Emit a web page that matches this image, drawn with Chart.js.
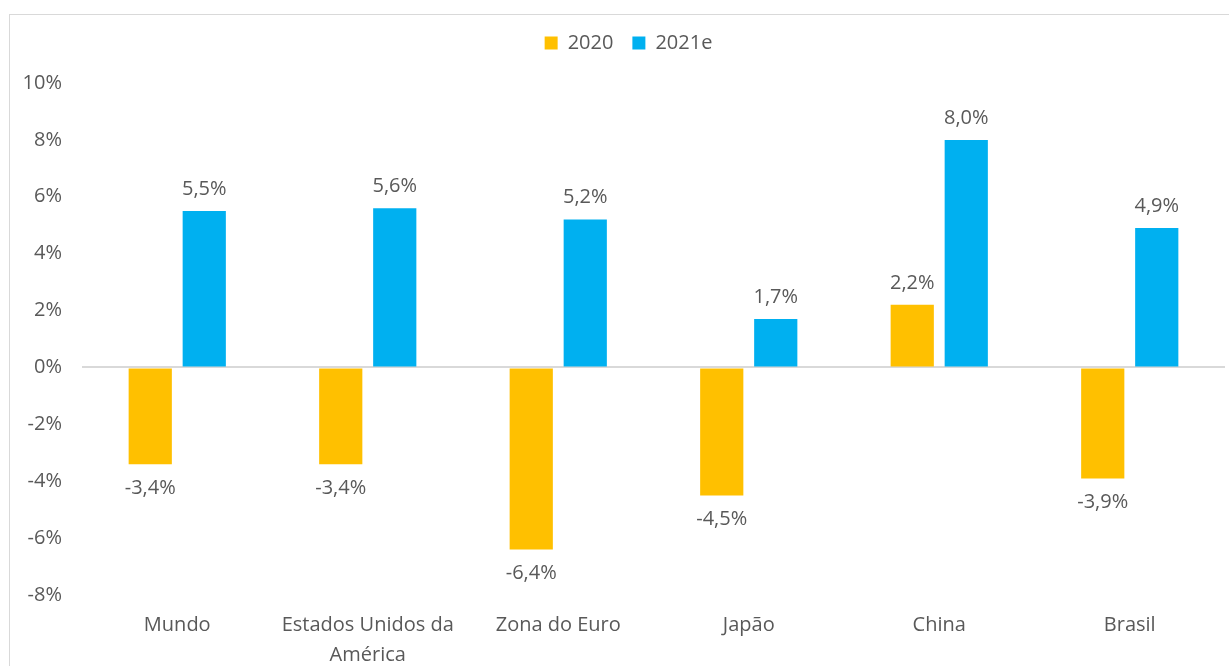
<!DOCTYPE html>
<html>
<head>
<meta charset="utf-8">
<script src="https://cdn.jsdelivr.net/npm/chart.js@4.4.1/dist/chart.umd.min.js"></script>
<style>
  html, body { margin: 0; padding: 0; background: #fff; overflow: hidden; }
  #moldura { position: absolute; left: 9px; top: 14px; width: 1240px; height: 700px;
             border-left: 1px solid #d9d9d9; border-top: 1px solid #d9d9d9; }
  #grafico { position: absolute; left: 0; top: 0; }
</style>
</head>
<body>
<div id="moldura"></div>
<canvas id="grafico" width="1229" height="666"></canvas>
<script>
// Dados do gráfico (crescimento do PIB)
const paises = ['Mundo', ['Estados Unidos da', 'América'], 'Zona do Euro', 'Japão', 'China', 'Brasil'];
const serie2020 = [-3.4, -3.4, -6.4, -4.5, 2.2, -3.9];
const serie2021e = [5.5, 5.6, 5.2, 1.7, 8.0, 4.9];
const nomesSeries = ['2020', '2021e'];
const yMin = -8, yMax = 10, yPasso = 2;

const corTexto = '#595959';
const fonte = '"Open Sans", Lato, sans-serif';
const tamFonte = 20;

// rótulos em cima/embaixo das barras, com vírgula decimal
const rotulosPlugin = {
  id: 'rotulos',
  afterDatasetsDraw(chart) {
    const ctx = chart.ctx;
    ctx.save();
    ctx.font = tamFonte + 'px ' + fonte;
    ctx.fillStyle = corTexto;
    ctx.textAlign = 'center';
    ctx.textBaseline = 'middle';
    chart.data.datasets.forEach((ds, i) => {
      chart.getDatasetMeta(i).data.forEach((bar, j) => {
        const v = ds.data[j];
        const txt = v.toFixed(1).replace('.', ',') + '%';
        const y = v >= 0 ? bar.y - 22 : bar.y + 24;
        ctx.fillText(txt, bar.x, y);
      });
    });
    ctx.restore();
  }
};

// espaço extra entre legenda e área do gráfico, e legenda um pouco à direita
const ajusteLegenda = {
  id: 'ajusteLegenda',
  beforeInit(chart) {
    const lg = chart.legend;
    if (!lg) return;
    const orig = lg.fit.bind(lg);
    lg.fit = function() { orig(); this.height += 20; };
  },
  afterLayout(chart) {
    if (!chart.legend) return;
    chart.legend.left += 16;
    chart.legend.right += 16;
  }
};

const Conf = {
  type: 'bar',
  data: {
    labels: paises,
    datasets: [{
      label: nomesSeries[0],
      data: serie2020,
      backgroundColor: '#FFC000',
      categoryPercentage: 0.567,
      barPercentage: 0.8
    }, {
      label: nomesSeries[1],
      data: serie2021e,
      backgroundColor: '#00B0F0',
      categoryPercentage: 0.567,
      barPercentage: 0.8
    }]
  },
  options: {
    responsive: false,
    animation: false,
    layout: { padding: { top: 14, right: 4, left: 0, bottom: 0 } },
    plugins: {
      legend: {
        display: true,
        position: 'top',
        labels: {
          color: corTexto,
          font: { size: tamFonte, family: fonte },
          boxWidth: 13, boxHeight: 13,
          padding: 19
        }
      },
      tooltip: { enabled: false }
    },
    scales: {
      x: {
        grid: { display: false },
        border: { display: false },
        afterFit(scale) { scale.height -= 11; },
        ticks: {
          color: corTexto,
          font: { size: tamFonte, family: fonte, lineHeight: 1.5 },
          padding: 7,
          maxRotation: 0, autoSkip: false
        }
      },
      y: {
        min: yMin, max: yMax,
        afterFit(scale) { scale.width = 82; },
        grid: {
          drawTicks: false,
          color: (c) => c.tick && c.tick.value === 0 ? '#d9d9d9' : 'rgba(0,0,0,0)',
          lineWidth: 2
        },
        border: { display: false },
        ticks: {
          stepSize: yPasso,
          color: corTexto,
          font: { size: tamFonte, family: fonte },
          padding: 20,
          callback: (v) => v + '%'
        }
      }
    }
  },
  plugins: [rotulosPlugin, ajusteLegenda]
};

window.Graf = new Chart(document.getElementById('grafico'), Conf);
</script>
</body>
</html>
